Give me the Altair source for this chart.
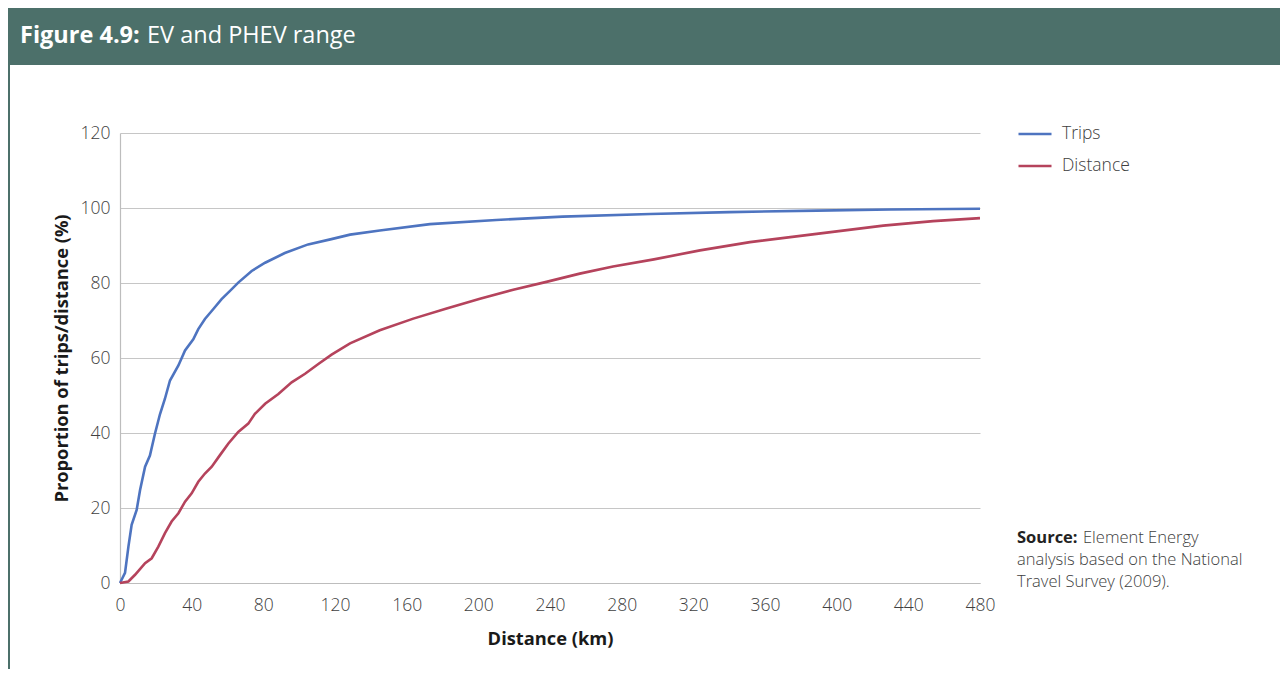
import altair as alt
import pandas as pd

# ---- data ----
trips_km = [0, 2.8, 4.7, 6.5, 9.3, 11.2, 14, 16.7, 19.5, 22.3, 25, 27.9, 32.6, 36.3,
            40.9, 43.7, 47.4, 52, 56.7, 61.4, 66, 73.5, 81, 92, 105, 118, 128.4, 145,
            173, 210, 247, 296, 340, 389, 430, 480]
trips_pct = [0, 2.7, 9.7, 15.5, 19.5, 24.8, 31, 34, 39.8, 45, 49, 54, 58, 62,
             65, 67.7, 70.4, 73, 75.7, 77.9, 80.1, 83.2, 85.4, 88, 90.3, 91.7, 92.9, 94,
             95.7, 96.8, 97.7, 98.4, 98.9, 99.3, 99.6, 99.8]

dist_km = [0, 4.7, 8.4, 14, 17.7, 21.4, 25.1, 28.8, 32.6, 36.3, 40, 43.7, 47.4, 51.2,
           55.8, 60.5, 66, 71.6, 75.3, 81, 88.4, 95.8, 103.3, 110.7, 118.1, 128.4, 145,
           163.7, 182.3, 200.9, 219.5, 238, 256.6, 275.2, 298, 323.7, 351.6, 388.8,
           426, 453.8, 480]
dist_pct = [0, 0.4, 2.2, 5.3, 6.6, 9.7, 13.3, 16.4, 18.6, 21.7, 23.9, 27, 29.2, 31,
            34.1, 37.2, 40.3, 42.5, 45.1, 47.8, 50.4, 53.5, 55.8, 58.4, 60.9, 63.9, 67.4,
            70.5, 73.2, 75.8, 78.2, 80.3, 82.5, 84.4, 86.3, 88.7, 90.9, 93.1,
            95.3, 96.5, 97.3]

series_names = ["Trips", "Distance"]
series_colors = ["#4e74c0", "#b5435c"]
x_ticks = list(range(0, 481, 40))
y_ticks = list(range(0, 121, 20))

title_bold = "Figure 4.9:"
title_rest = "EV and PHEV range"
source_lines = ["Element Energy", "analysis based on the National", "Travel Survey (2009)."]

df = pd.concat([
    pd.DataFrame({"km": trips_km, "pct": trips_pct, "series": "Trips"}),
    pd.DataFrame({"km": dist_km, "pct": dist_pct, "series": "Distance"}),
])

FONT = "Open Sans"
HEADER = "#4c706a"
TXT = "#404040"
W, H = 860, 450

lines = alt.Chart(df).mark_line(strokeWidth=2.6).encode(
    x=alt.X("km:Q", scale=alt.Scale(domain=[0, 480], nice=False),
            axis=alt.Axis(values=x_ticks, title="Distance (km)", ticks=False,
                          labelPadding=13, titlePadding=17, grid=False)),
    y=alt.Y("pct:Q", scale=alt.Scale(domain=[0, 120], nice=False),
            axis=alt.Axis(values=y_ticks, title="Proportion of trips/distance (%)",
                          ticks=False, labelPadding=10, titlePadding=9)),
    color=alt.Color("series:N", sort=series_names,
                    scale=alt.Scale(domain=series_names, range=series_colors),
                    legend=alt.Legend(title=None, orient="none", legendX=897, legendY=-17,
                                      symbolType="stroke", symbolSize=1089,
                                      symbolStrokeWidth=2.6, labelFontSize=17.5,
                                      labelFont=FONT, labelFontWeight=300,
                                      labelColor=TXT, labelOffset=9, rowPadding=5)),
    order=alt.Order("km:Q"),
)

one = pd.DataFrame({"a": [0]})

header = alt.Chart(one).mark_rect(color=HEADER).encode(
    x=alt.value(-112), x2=alt.value(1160), y=alt.value(-125), y2=alt.value(-68))
border = alt.Chart(one).mark_rule(color=HEADER, strokeWidth=2).encode(
    x=alt.value(-111), y=alt.value(-68), y2=alt.value(540))

t1 = alt.Chart(pd.DataFrame({"t": [title_bold]})).mark_text(
    font=FONT, fontSize=23.5, fontWeight="bold", color="white", align="left",
    baseline="alphabetic").encode(x=alt.value(-100), y=alt.value(-90), text="t:N")
t2 = alt.Chart(pd.DataFrame({"t": [title_rest]})).mark_text(
    font=FONT, fontSize=23.5, color="white", align="left",
    baseline="alphabetic").encode(x=alt.value(27), y=alt.value(-90), text="t:N")

s_bold = alt.Chart(pd.DataFrame({"t": ["Source:"]})).mark_text(
    font=FONT, fontSize=16.5, fontWeight="bold", color="#222", align="left",
    baseline="alphabetic").encode(x=alt.value(897), y=alt.value(410), text="t:N")
src1 = alt.Chart(pd.DataFrame({"t": [source_lines[0]]})).mark_text(
    font=FONT, fontSize=16.5, color=TXT, fontWeight=300, align="left",
    baseline="alphabetic").encode(x=alt.value(963), y=alt.value(410), text="t:N")
src2 = alt.Chart(pd.DataFrame({"t": [source_lines[1]]})).mark_text(
    font=FONT, fontSize=16.5, color=TXT, fontWeight=300, align="left",
    baseline="alphabetic").encode(x=alt.value(897), y=alt.value(432), text="t:N")
src3 = alt.Chart(pd.DataFrame({"t": [source_lines[2]]})).mark_text(
    font=FONT, fontSize=16.5, color=TXT, fontWeight=300, align="left",
    baseline="alphabetic").encode(x=alt.value(897), y=alt.value(454), text="t:N")

chart = alt.layer(header, border, t1, t2, lines, s_bold, src1, src2, src3).properties(
    width=W, height=H,
    autosize=alt.AutoSizeParams(type="none"),
    padding={"left": 112, "top": 125, "right": 300, "bottom": 86},
).configure_view(stroke=None).configure_axis(
    labelFont=FONT, labelFontSize=17.5, labelFontWeight=300, labelColor=TXT,
    titleFont=FONT, titleFontSize=18.3, titleFontWeight="bold", titleColor="#1a1a1a",
    gridColor="#c6c6c6", gridWidth=1, domainColor="#bdbdbd", domainWidth=1.2,
).configure_axisX(labelFlush=False)

chart.save("out.html", embed_options={"renderer": "svg", "actions": False})
